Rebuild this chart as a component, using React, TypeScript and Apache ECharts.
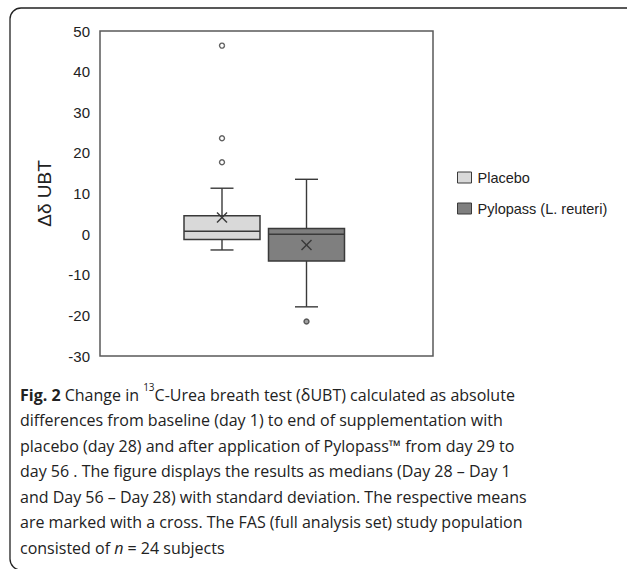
import React, { useEffect, useRef } from "react";
import * as echarts from "echarts";

// ---------- data ----------
const groupNames = ["Placebo", "Pylopass (L. reuteri)"];
// [lower whisker, Q1, median, Q3, upper whisker]
const placeboBox = [-3.9, -1.3, 0.7, 4.5, 11.3];
const pylopassBox = [-17.9, -6.6, 0.0, 1.4, 13.5];
const placeboMean = 4.1;
const pylopassMean = -2.7;
const placeboOutliers = [46.4, 23.6, 17.7];
const pylopassOutliers = [-21.5];
const yMin = -30;
const yMax = 50;
const yInterval = 10;

const captionLines = [
  "{b|Fig. 2} Change in {sup|13}C-Urea breath test (δUBT) calculated as absolute",
  "differences from baseline (day 1) to end of supplementation with",
  "placebo (day 28) and after application of Pylopass™ from day 29 to",
  "day 56 . The figure displays the results as medians (Day 28 – Day 1",
  "and Day 56 – Day 28) with standard deviation. The respective means",
  "are marked with a cross. The FAS (full analysis set) study population",
  "consisted of {i|n} = 24 subjects",
];

// ---------- style ----------
const fills = ["#d9d9d9", "#7f7f7f"];
const offsets = [-44.5, 40];
const boxHalf = 38;
const capHalf = 11.5;
const lineColor = "#3a3a3a";
const arial = "Liberation Sans, Arial, sans-serif";
const capFont = "Open Sans, Noto Sans, sans-serif";

function makeRenderer(offset: number, fill: string) {
  return (params: any, api: any) => {
    const lo = api.value(1);
    const q1 = api.value(2);
    const med = api.value(3);
    const q3 = api.value(4);
    const hi = api.value(5);
    const mean = api.value(6);
    const cx = api.coord([0, 0])[0] + offset;
    const Y = (v: number) => api.coord([0, v])[1];
    const ls = { stroke: lineColor, lineWidth: 1.4, fill: "none" };
    const m = 5;
    return {
      type: "group",
      children: [
        { type: "line", shape: { x1: cx, y1: Y(q3), x2: cx, y2: Y(hi) }, style: ls },
        { type: "line", shape: { x1: cx, y1: Y(q1), x2: cx, y2: Y(lo) }, style: ls },
        { type: "line", shape: { x1: cx - capHalf, y1: Y(hi), x2: cx + capHalf, y2: Y(hi) }, style: ls },
        { type: "line", shape: { x1: cx - capHalf, y1: Y(lo), x2: cx + capHalf, y2: Y(lo) }, style: ls },
        {
          type: "rect",
          shape: { x: cx - boxHalf, y: Y(q3), width: boxHalf * 2, height: Y(q1) - Y(q3) },
          style: { fill, stroke: lineColor, lineWidth: 1.5 },
        },
        { type: "line", shape: { x1: cx - boxHalf, y1: Y(med), x2: cx + boxHalf, y2: Y(med) }, style: { ...ls, lineWidth: 1.5 } },
        { type: "line", shape: { x1: cx - m, y1: Y(mean) - m, x2: cx + m, y2: Y(mean) + m }, style: ls },
        { type: "line", shape: { x1: cx - m, y1: Y(mean) + m, x2: cx + m, y2: Y(mean) - m }, style: ls },
      ],
    };
  };
}

export default function App() {
  const ref = useRef<HTMLDivElement>(null);
  useEffect(() => {
    if (!ref.current) return;
    const chart = echarts.init(ref.current, undefined, { renderer: "svg" });
    const boxes = [placeboBox, pylopassBox];
    const means = [placeboMean, pylopassMean];
    const outliers = [placeboOutliers, pylopassOutliers];
    const series: any[] = [];
    groupNames.forEach((name, i) => {
      series.push({
        type: "custom",
        name,
        itemStyle: { color: fills[i] },
        renderItem: makeRenderer(offsets[i], fills[i]),
        data: [[0, ...boxes[i], means[i]]],
        encode: { x: 0, y: [1, 2, 3, 4, 5, 6] },
        z: 2,
      });
    });
    groupNames.forEach((name, i) => {
      series.push({
        type: "scatter",
        name: name + " outliers",
        symbol: "circle",
        symbolSize: 5,
        symbolOffset: [offsets[i], 0],
        itemStyle: { color: i === 0 ? "#ffffff" : "#8a8a8a", borderColor: "#3a3a3a", borderWidth: 1.4 },
        data: outliers[i].map((v) => [0, v]),
        z: 3,
      });
    });

    chart.setOption({
      animation: false,
      backgroundColor: "#ffffff",
      grid: {
        left: 100,
        top: 31,
        right: 194,
        bottom: 213,
        show: true,
        borderColor: "#5a5a5a",
        borderWidth: 1.5,
        backgroundColor: "transparent",
      },
      xAxis: {
        type: "category",
        data: [""],
        show: false,
      },
      yAxis: {
        type: "value",
        min: yMin,
        max: yMax,
        interval: yInterval,
        axisLine: { show: false },
        axisTick: { show: false },
        splitLine: { show: false },
        axisLabel: {
          fontSize: 15,
          fontFamily: arial,
          color: "#222",
          margin: 10,
        },
        name: "Δδ UBT",
        nameLocation: "middle",
        nameGap: 46,
        nameTextStyle: {
          fontSize: 19,
          fontFamily: arial,
          color: "#222",
        },
      },
      legend: {
        orient: "vertical",
        left: 452,
        top: 165,
        itemWidth: 14,
        itemHeight: 11,
        itemGap: 16,
        selectedMode: false,
        icon: "rect",
        textStyle: {
          fontSize: 14.5,
          fontFamily: arial,
          color: "#222",
          padding: [0, 0, 0, 1],
        },
        data: groupNames.map((n, i) => ({
          name: n,
          itemStyle: { color: fills[i], borderColor: "#3a3a3a", borderWidth: 1 },
        })),
      },
      graphic: [
        {
          type: "rect",
          shape: { x: 10, y: 8, width: 680, height: 562, r: 11 },
          style: { fill: "none", stroke: "#222", lineWidth: 1.3 },
          silent: true,
        },
        {
          type: "text",
          left: 20,
          top: 382,
          style: {
            text: captionLines.join("\n"),
            fontFamily: capFont,
            fontSize: 16,
            lineHeight: 25.5,
            fill: "#222",
            rich: {
              b: { fontFamily: capFont, fontSize: 16, fontWeight: "bold", lineHeight: 25.5, fill: "#222" },
              i: { fontFamily: capFont, fontSize: 16, fontStyle: "italic", lineHeight: 25.5, fill: "#222" },
              sup: { fontFamily: capFont, fontSize: 10, lineHeight: 2, verticalAlign: "top", fill: "#222" },
            },
          },
        },
      ],
      series,
    });
    return () => chart.dispose();
  }, []);
  return (
    <div
      ref={ref}
      style={{ position: "fixed", left: 0, top: 0, width: 627, height: 569, background: "#fff" }}
    />
  );
}
